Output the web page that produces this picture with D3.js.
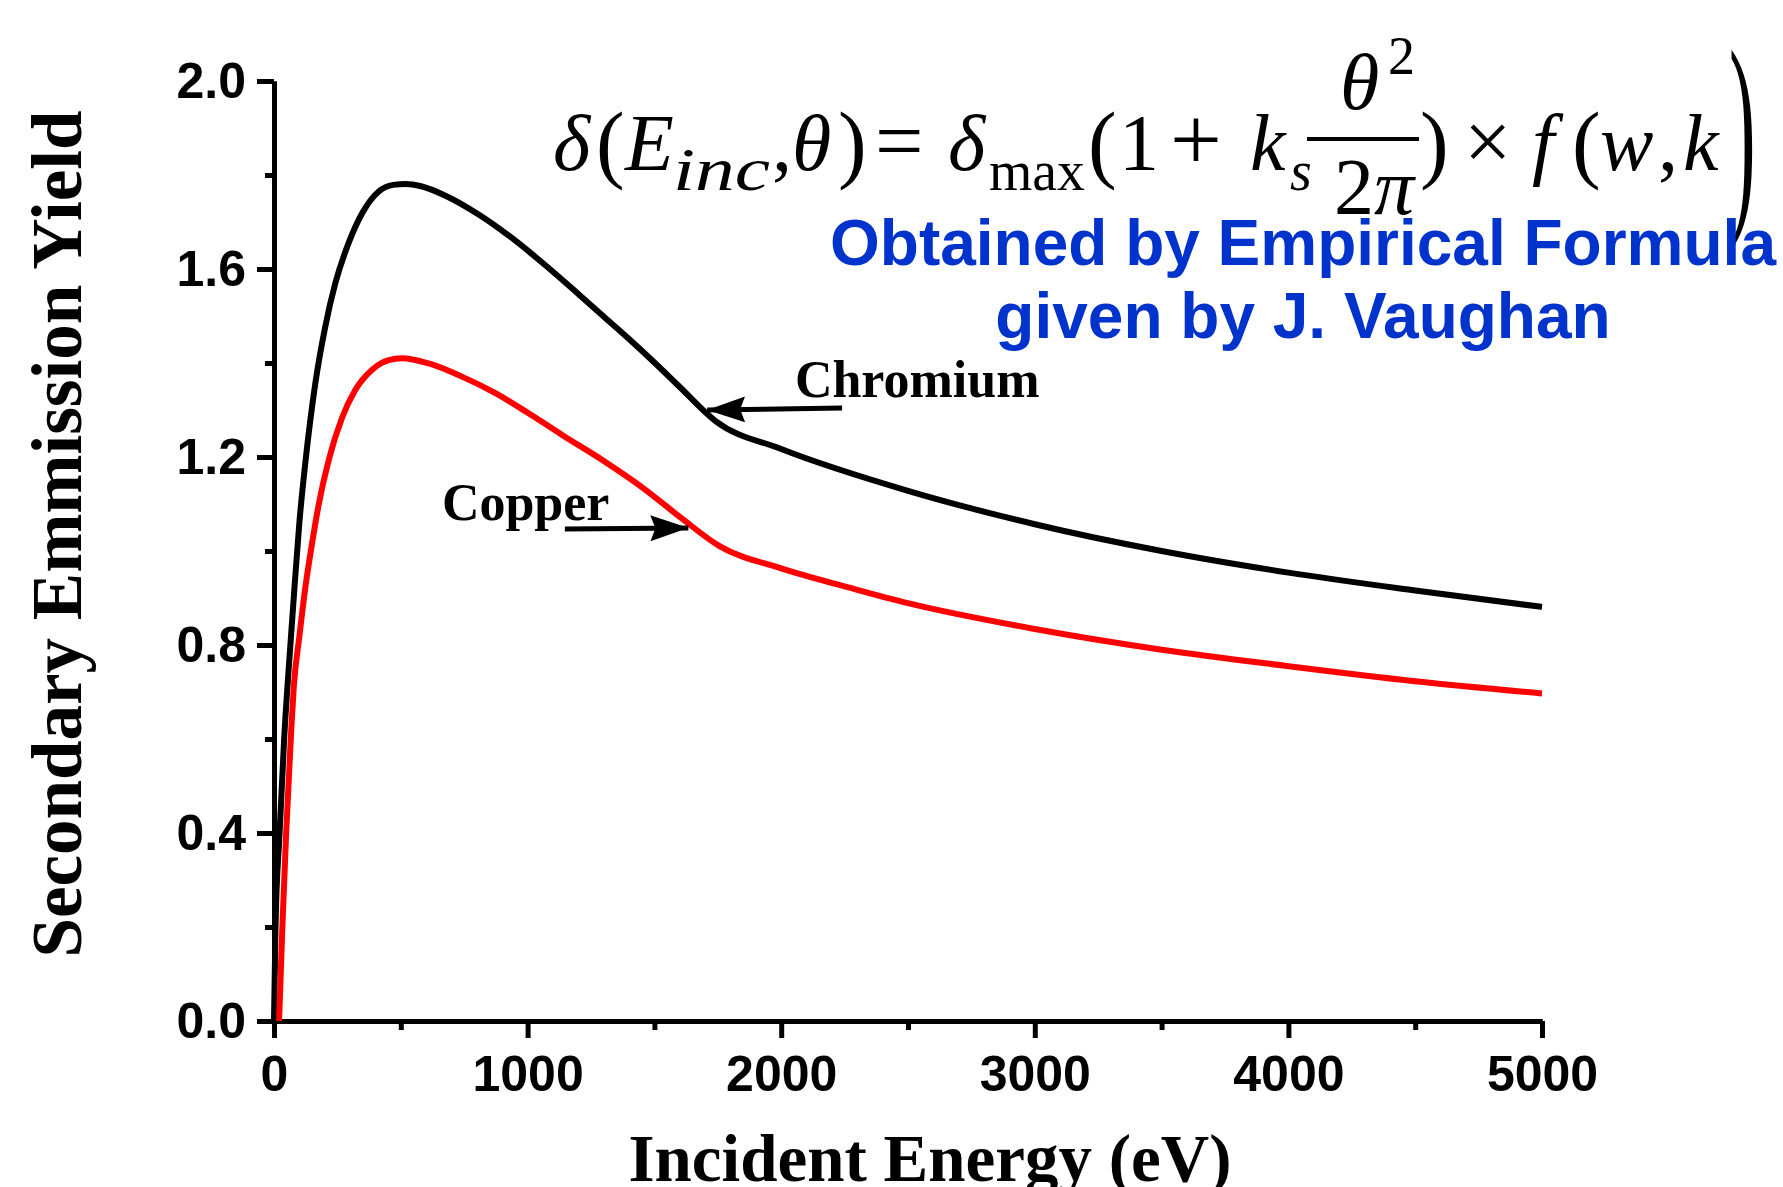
<!DOCTYPE html>
<html>
<head>
<meta charset="utf-8">
<script src="https://cdn.jsdelivr.net/npm/d3@7"></script>
<style>
body { margin: 0; background: #fff; }
svg { display: block; }
</style>
</head>
<body>
<div id="chart"></div>
<script>
// Chromium (black) curve
var energyCr = [0, 6, 22, 40, 58, 81, 100, 124, 163, 202, 242, 294, 347, 413, 470, 520, 580, 676, 807, 938, 1070, 1200, 1300, 1400, 1500, 1600, 1740, 2000, 2500, 3000, 3500, 4000, 4500, 5000];
var yieldCr  = [0, 0.2, 0.4, 0.6, 0.75, 0.924, 1.06, 1.19, 1.357, 1.477, 1.57, 1.655, 1.718, 1.765, 1.779, 1.781, 1.776, 1.756, 1.716, 1.666, 1.608, 1.547, 1.499, 1.451, 1.401, 1.349, 1.277, 1.217, 1.128, 1.057, 1.0, 0.954, 0.916, 0.881];

// Copper (red) curve
var energyCu = [20, 33, 48, 68, 78, 100, 124, 150, 176, 216, 268, 321, 386, 452, 505, 610, 741, 873, 1004, 1136, 1302, 1453, 1604, 1755, 2000, 2269, 2500, 3000, 3500, 4000, 4500, 5000];
var yieldCu  = [0, 0.2, 0.4, 0.62, 0.711, 0.818, 0.924, 1.016, 1.098, 1.194, 1.283, 1.343, 1.385, 1.406, 1.41, 1.399, 1.371, 1.336, 1.293, 1.247, 1.191, 1.135, 1.071, 1.011, 0.963, 0.922, 0.889, 0.834, 0.79, 0.755, 0.723, 0.697];

var xTicks = [0, 1000, 2000, 3000, 4000, 5000];
var xMinorTicks = [500, 1500, 2500, 3500, 4500];
var yTicks = [0, 0.4, 0.8, 1.2, 1.6, 2.0];
var yMinorTicks = [0.2, 0.6, 1.0, 1.4, 1.8];

// annotation arrows: [fromE, fromY, toE, toY]
var arrowCr = [2240, 1.304, 1708, 1.300];
var arrowCu = [1147, 1.047, 1634, 1.049];

var width = 1783, height = 1187;

var xScale = d3.scaleLinear().domain([0, 5000]).range([274, 1542]);
var yScale = d3.scaleLinear().domain([0, 2]).range([1021, 81]);

var svg = d3.select("#chart")
    .append("svg")
    .attr("width", width)
    .attr("height", height)
    .style("background", "#fff");

var tickFont = "'Liberation Sans', Arial, sans-serif";
var serifFont = "'Liberation Serif', 'Times New Roman', serif";

// Axes
function styleAxis(g) {
    g.select(".domain").attr("stroke", "#000").attr("stroke-width", 5);
    g.selectAll(".tick line").attr("stroke", "#000").attr("stroke-width", 5);
    g.selectAll(".tick text")
        .attr("fill", "#000")
        .style("font-family", tickFont)
        .style("font-weight", "bold")
        .style("font-size", "50px");
}

svg.append("g")
    .attr("transform", "translate(0," + yScale(0) + ")")
    .call(d3.axisBottom(xScale).tickValues(xMinorTicks).tickSize(9).tickSizeOuter(0).tickFormat(""))
    .call(styleAxis);
svg.append("g")
    .attr("transform", "translate(0," + yScale(0) + ")")
    .call(d3.axisBottom(xScale).tickValues(xTicks).tickSize(17).tickSizeOuter(0).tickPadding(17).tickFormat(d3.format("d")))
    .call(styleAxis);

svg.append("g")
    .attr("transform", "translate(" + xScale(0) + ",0)")
    .call(d3.axisLeft(yScale).tickValues(yMinorTicks).tickSize(9).tickSizeOuter(0).tickFormat(""))
    .call(styleAxis);
svg.append("g")
    .attr("transform", "translate(" + xScale(0) + ",0)")
    .call(d3.axisLeft(yScale).tickValues(yTicks).tickSize(17).tickSizeOuter(0).tickPadding(11).tickFormat(d3.format(".1f")))
    .call(styleAxis);

// Axis titles
svg.append("text")
    .attr("x", 930)
    .attr("y", 1181)
    .attr("text-anchor", "middle")
    .style("font-family", serifFont)
    .style("font-weight", "bold")
    .style("font-size", "67px")
    .text("Incident Energy (eV)");

svg.append("text")
    .attr("transform", "translate(81,534) rotate(-90)")
    .attr("text-anchor", "middle")
    .style("font-family", serifFont)
    .style("font-weight", "bold")
    .style("font-size", "71px")
    .text("Secondary Emmission Yield");

// Curves
var line = d3.line()
    .x(function(d) { return xScale(d[0]); })
    .y(function(d) { return yScale(d[1]); })
    .curve(d3.curveMonotoneX);

svg.append("path")
    .datum(d3.zip(energyCr, yieldCr))
    .attr("fill", "none")
    .attr("stroke", "#000")
    .attr("stroke-width", 6)
    .attr("stroke-linejoin", "round")
    .attr("d", line);

svg.append("path")
    .datum(d3.zip(energyCu, yieldCu))
    .attr("fill", "none")
    .attr("stroke", "#ff0000")
    .attr("stroke-width", 6)
    .attr("stroke-linejoin", "round")
    .attr("d", line);

// Arrows
svg.append("defs").append("marker")
    .attr("id", "head")
    .attr("markerUnits", "userSpaceOnUse")
    .attr("viewBox", "0 0 38 26")
    .attr("refX", 38)
    .attr("refY", 13)
    .attr("markerWidth", 38)
    .attr("markerHeight", 26)
    .attr("orient", "auto")
    .append("path")
    .attr("d", "M0,0 L38,13 L0,26 L5,13 Z")
    .attr("fill", "#000");

[arrowCr, arrowCu].forEach(function(a) {
    svg.append("line")
        .attr("x1", xScale(a[0]))
        .attr("y1", yScale(a[1]))
        .attr("x2", xScale(a[2]))
        .attr("y2", yScale(a[3]))
        .attr("stroke", "#000")
        .attr("stroke-width", 5)
        .attr("marker-end", "url(#head)");
});

svg.append("text")
    .attr("x", xScale(2054))
    .attr("y", yScale(1.328))
    .style("font-family", serifFont)
    .style("font-weight", "bold")
    .style("font-size", "52px")
    .text("Chromium");

svg.append("text")
    .attr("x", xScale(662))
    .attr("y", yScale(1.066))
    .style("font-family", serifFont)
    .style("font-weight", "bold")
    .style("font-size", "52px")
    .text("Copper");

// Formula
var formula = svg.append("g")
    .style("font-family", serifFont)
    .attr("fill", "#000");

function piece(txt, x, y, size, italic, len) {
    var t = formula.append("text")
        .attr("x", x)
        .attr("y", y)
        .style("font-size", size + "px")
        .style("font-style", italic ? "italic" : "normal")
        .text(txt);
    if (len) t.attr("textLength", len).attr("lengthAdjust", "spacingAndGlyphs");
}
piece("\u03b4", 553, 170, 80, true);
piece("(", 596, 172, 86, false);
piece("E", 625, 170, 80, true);
piece("inc", 673, 190, 62, true, 97);
piece(",", 772, 170, 80, false);
piece("\u03b8", 792, 170, 80, true);
piece(")", 838, 172, 86, false);
piece("=", 875, 170, 86, false);
piece("\u03b4", 948, 170, 80, true);
piece("max", 989, 190, 58, false, 96);
piece("(", 1088, 172, 86, false);
piece("1", 1119, 170, 80, false);
piece("+", 1170, 170, 92, false);
piece("k", 1250, 170, 80, true);
piece("s", 1290, 190, 56, true);
piece("\u03b8", 1340, 109, 80, true);
piece("2", 1388, 74, 54, false);
piece("2", 1334, 214, 80, false);
piece("\u03c0", 1374, 214, 80, true);
piece(")", 1420, 172, 86, false);
piece("\u00d7", 1464, 170, 84, false);
piece("f", 1532, 170, 80, true);
piece("(", 1572, 172, 86, false);
piece("w", 1600, 170, 80, true);
piece(",", 1658, 170, 80, false);
piece("k", 1683, 170, 80, true);

formula.append("line")
    .attr("x1", 1307).attr("x2", 1419)
    .attr("y1", 139).attr("y2", 139)
    .attr("stroke", "#000")
    .attr("stroke-width", 4);

formula.append("text")
    .attr("transform", "translate(1729,203) scale(1,2.75)")
    .style("font-size", "80px")
    .style("font-weight", "normal")
    .text(")");

// Blue note
svg.append("text")
    .attr("x", 1303)
    .attr("y", 265)
    .attr("text-anchor", "middle")
    .attr("fill", "#0033cc")
    .style("font-family", tickFont)
    .style("font-weight", "bold")
    .style("font-size", "64px")
    .text("Obtained by Empirical Formula");

svg.append("text")
    .attr("x", 1303)
    .attr("y", 338)
    .attr("text-anchor", "middle")
    .attr("fill", "#0033cc")
    .style("font-family", tickFont)
    .style("font-weight", "bold")
    .style("font-size", "64px")
    .text("given by J. Vaughan");
</script>
</body>
</html>
